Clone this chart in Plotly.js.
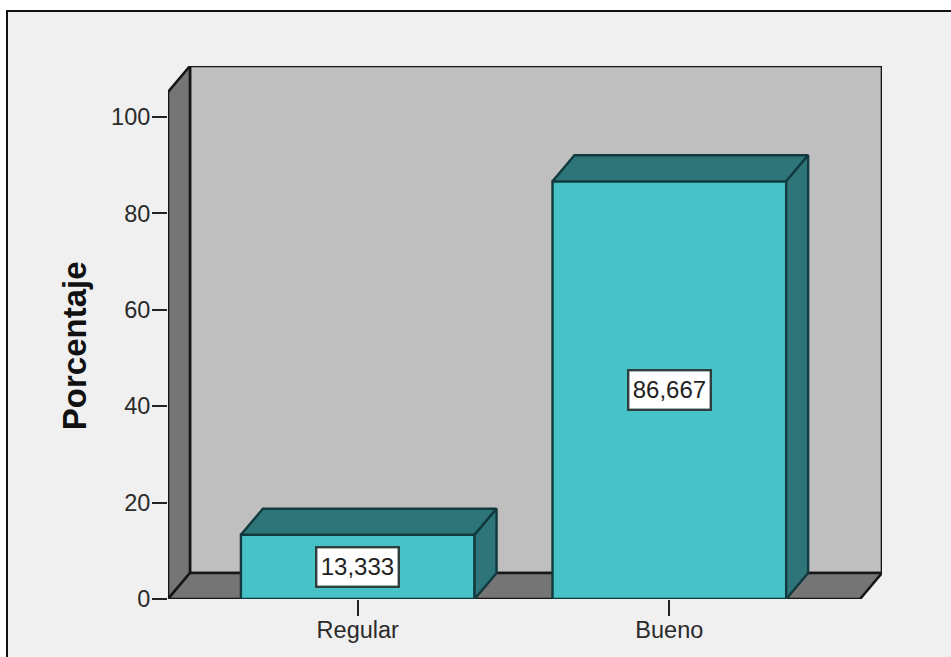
<!DOCTYPE html>
<html>
<head>
<meta charset="utf-8">
<script src="https://cdn.plot.ly/plotly-3.0.1.min.js"></script>
<style>
  html, body { margin: 0; padding: 0; background: #ffffff; overflow: hidden; }
  #frame { position: absolute; left: 6px; top: 10px; width: 960px; height: 700px;
           background: #f0f0f0; border: 2px solid #111; }
  #chart { position: absolute; left: 0; top: 0; width: 951px; height: 657px; }
</style>
</head>
<body>
<div id="frame"></div>
<div id="chart"></div>
<script>
// Percentage per category
const categories = ['Regular', 'Bueno'];
const percentages = [13.333, 86.667];
const valueLabels = ['13,333', '86,667'];
const yTicks = [0, 20, 40, 60, 80, 100];
const yAxisTitle = 'Porcentaje';

// Extruded look: offset of the back plane, in axis units
const depthX = 0.0705;
const depthY = 5.4;
const barWidth = 0.75;
const xFront = [-0.609, 1.612];
const yFrontTop = 105.2;

const xRange = [xFront[0], xFront[1] + depthX];
const yRange = [0, yFrontTop + depthY];

const OUTLINE = '#161616';
const BAR_OUTLINE = '#123a3e';
const polyPath = pts => 'M' + pts.map(p => p.join(',')).join('L') + 'Z';
const wall = (pts, fill) => ({
  type: 'shape', xref: 'x', yref: 'y', layer: 'below', path: polyPath(pts),
  fillcolor: fill, line: { color: OUTLINE, width: 2.6 }
});

const shapes = [
  // back wall
  wall([[xFront[0] + depthX, depthY], [xFront[1] + depthX, depthY],
        [xFront[1] + depthX, yFrontTop + depthY], [xFront[0] + depthX, yFrontTop + depthY]], '#bfbfbf'),
  // left wall
  wall([[xFront[0], 0], [xFront[0] + depthX, depthY],
        [xFront[0] + depthX, yFrontTop + depthY], [xFront[0], yFrontTop]], '#757575'),
  // floor
  wall([[xFront[0], 0], [xFront[1], 0],
        [xFront[1] + depthX, depthY], [xFront[0] + depthX, depthY]], '#757575')
];

// Front faces of the bars
const traces = [{
  type: 'bar', x: [0, 1], y: percentages, width: barWidth,
  marker: { color: '#47c2c7', line: { color: BAR_OUTLINE, width: 2.4 } },
  hoverinfo: 'skip', showlegend: false
}];

// Top and right faces of the bars
const face = (xs, ys) => ({
  type: 'scatter', mode: 'lines', x: xs, y: ys, fill: 'toself', fillcolor: '#2d7579',
  line: { color: BAR_OUTLINE, width: 2.4 }, hoverinfo: 'skip', showlegend: false, cliponaxis: false
});
percentages.forEach((v, i) => {
  const l = i - barWidth / 2, r = i + barWidth / 2;
  traces.push(face([l, r, r + depthX, l + depthX, l], [v, v, v + depthY, v + depthY, v]));
  traces.push(face([r, r + depthX, r + depthX, r, r], [0, depthY, v + depthY, v, 0]));
});

const annotations = percentages.map((v, i) => ({
  x: i, y: v / 2, xref: 'x', yref: 'y', text: valueLabels[i], showarrow: false,
  font: { family: 'Liberation Sans, Arial, sans-serif', size: 24, color: '#222' },
  bgcolor: '#ffffff', bordercolor: '#2f3f40', borderwidth: 2.4, borderpad: 2, width: 76, height: 33
}));

// Value-axis caption, centred on the span of the ticks
annotations.push({
  xref: 'paper', yref: 'paper', x: -0.13, y: 0.4747, text: '<b>' + yAxisTitle + '</b>',
  textangle: -90, showarrow: false, xanchor: 'center', yanchor: 'middle',
  font: { family: 'Liberation Sans, Arial, sans-serif', size: 33, color: '#111' }
});

const layout = {
  width: 951, height: 657, autosize: false,
  margin: { l: 168, r: 69, t: 66, b: 58, pad: 0 },
  paper_bgcolor: 'rgba(0,0,0,0)', plot_bgcolor: 'rgba(0,0,0,0)',
  font: { family: 'Liberation Sans, Arial, sans-serif', color: '#2a2a2a' },
  showlegend: false, shapes, annotations, bargap: 0,
  xaxis: {
    type: 'linear', range: xRange, tickmode: 'array', tickvals: [0, 1], ticktext: categories,
    ticks: 'outside', ticklen: 16, tickwidth: 2, tickcolor: '#222', ticklabelstandoff: -6,
    tickfont: { size: 23.5, color: '#2a2a2a' }, showgrid: false, zeroline: false, showline: false
  },
  yaxis: {
    range: yRange, tickmode: 'array', tickvals: yTicks, ticktext: yTicks.map(String),
    ticks: 'outside', ticklen: 15, tickwidth: 2, tickcolor: '#222', ticklabelstandoff: -3,
    tickfont: { size: 23.5, color: '#2a2a2a' }, showgrid: false, zeroline: false, showline: false
  }
};

Plotly.newPlot('chart', traces, layout, { displayModeBar: false, staticPlot: true });
</script>
</body>
</html>
